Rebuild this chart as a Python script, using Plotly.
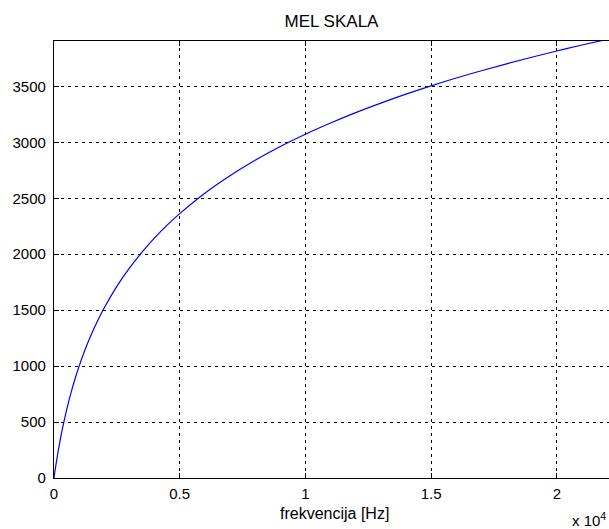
import plotly.graph_objects as go

# Frequency samples (Hz) and the corresponding mel values
freq_hz = [0, 25, 50, 100, 150, 200, 300, 400, 500, 700, 850, 1000, 1250, 1500,
           1750, 2000, 2500, 3000, 3500, 4000, 4500, 5000, 6000, 7000, 8000,
           9000, 10000, 11000, 12000, 13000, 14000, 15000, 16000, 17000,
           18000, 19000, 20000, 21000, 22050]
mel = [0, 40, 78, 150, 219, 283, 402, 509, 607, 781, 896, 1000, 1155, 1291,
       1412, 1521, 1713, 1876, 2018, 2146, 2260, 2363, 2546, 2702, 2840,
       2963, 3073, 3173, 3266, 3351, 3431, 3505, 3575, 3640, 3702, 3761,
       3817, 3870, 3923]

x_tick_vals = [0, 5000, 10000, 15000, 20000]
x_tick_text = ["0", "0.5", "1", "1.5", "2"]
y_tick_vals = [0, 500, 1000, 1500, 2000, 2500, 3000, 3500]

FONT = "Liberation Sans, Arial, sans-serif"

fig = go.Figure()
fig.add_trace(go.Scatter(
    x=freq_hz, y=mel, mode="lines",
    line=dict(color="rgb(0,0,255)", width=1.2, shape="spline"),
    hoverinfo="skip", showlegend=False,
))

axis_common = dict(
    showgrid=True, gridcolor="black", gridwidth=1, griddash="3px,4px",
    zeroline=False, showline=True, linecolor="black", linewidth=1.2,
    ticks="inside", ticklen=5, tickcolor="black", tickwidth=1,
    tickfont=dict(family=FONT, size=15, color="black"),
)

fig.update_layout(
    width=609, height=529,
    margin=dict(l=54, r=0, t=41, b=51),
    paper_bgcolor="white", plot_bgcolor="white",
    font=dict(family=FONT, size=15, color="black"),
    title=dict(text="MEL SKALA", x=0.5, xref="paper", y=1 - 21 / 529,
               yanchor="middle", font=dict(family=FONT, size=17, color="black")),
    xaxis=dict(range=[0, 22076], tickvals=x_tick_vals, ticktext=x_tick_text,
               mirror="ticks", ticklabelstandoff=2, **axis_common),
    yaxis=dict(range=[0, 3906], tickvals=y_tick_vals, mirror=False,
               ticklabelstandoff=4, **axis_common),
    annotations=[
        # x-axis title, placed just below the tick labels
        dict(text="frekvencija [Hz]", x=0.505, xref="paper", y=0, yref="paper",
             showarrow=False, font=dict(family=FONT, size=16, color="black"),
             xanchor="center", yanchor="top", yshift=-25),
        # exponent of the x tick labels
        dict(text="x 10<sup>4</sup>", x=1, xref="paper", y=0, yref="paper",
             showarrow=False, font=dict(family=FONT, size=15, color="black"),
             xanchor="right", yanchor="top", yshift=-30, xshift=-1),
    ],
)

fig.write_html("out.html")
